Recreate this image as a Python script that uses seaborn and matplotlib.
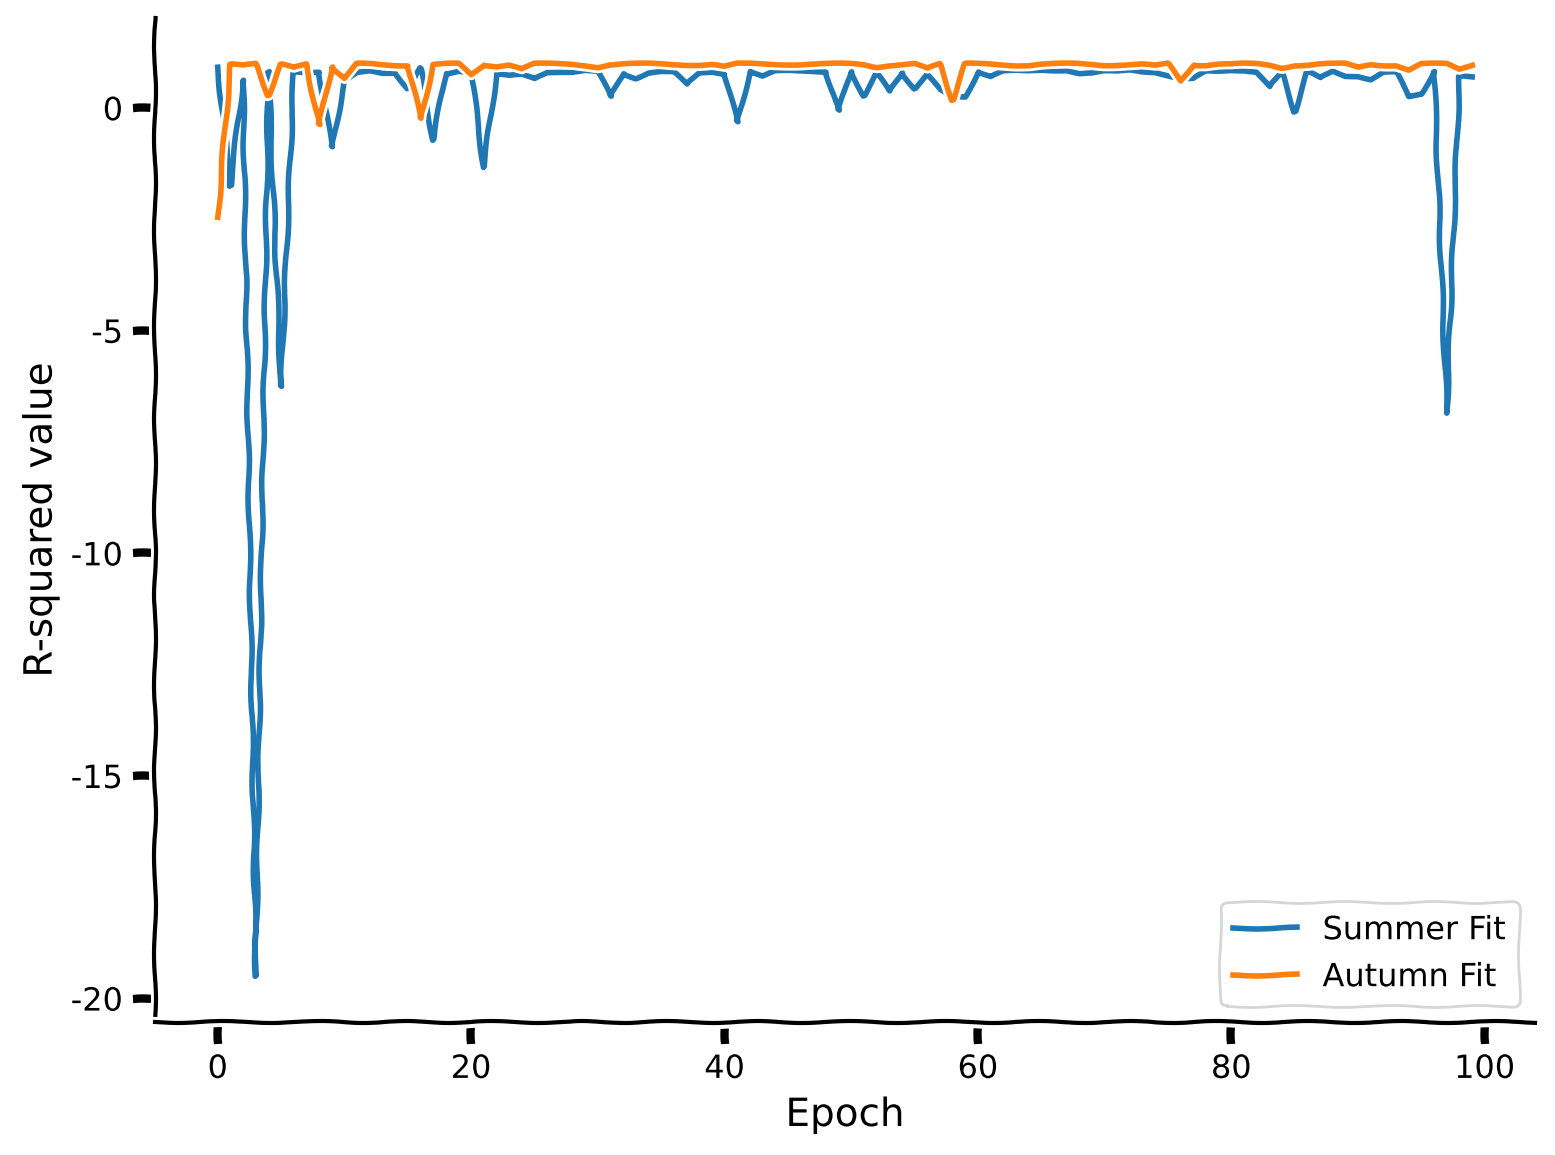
import matplotlib
matplotlib.use("Agg")
import matplotlib.pyplot as plt
import seaborn as sns
import pandas as pd

epochs = list(range(100))

summer_fit = [
    0.92, -1.75, 0.63, -19.5, 0.82, -6.25, 0.80, 0.80, 0.82, -0.87,
    0.60, 0.78, 0.82, 0.78, 0.80, 0.45, 0.90, -0.72, 0.78, 0.85,
    0.80, -1.33, 0.78, 0.73, 0.74, 0.65, 0.80, 0.82, 0.83, 0.86,
    0.82, 0.26, 0.78, 0.68, 0.80, 0.82, 0.80, 0.53, 0.80, 0.83,
    0.78, -0.31, 0.83, 0.71, 0.82, 0.83, 0.83, 0.83, 0.83, -0.05,
    0.82, 0.28, 0.78, 0.38, 0.80, 0.44, 0.74, 0.40, 0.25, 0.26,
    0.82, 0.71, 0.82, 0.83, 0.83, 0.86, 0.86, 0.86, 0.78, 0.78,
    0.82, 0.82, 0.86, 0.83, 0.82, 0.74, 0.65, 0.65, 0.82, 0.83,
    0.86, 0.86, 0.82, 0.48, 0.78, -0.08, 0.82, 0.67, 0.83, 0.73,
    0.73, 0.65, 0.80, 0.80, 0.26, 0.33, 0.83, -6.85, 0.71, 0.68,
]

autumn_fit = [
    -2.45, 0.98, 0.95, 0.99, 0.29, 0.98, 0.90, 0.99, -0.37, 0.93,
    0.67, 0.99, 0.99, 0.98, 0.97, 0.97, -0.23, 0.98, 0.99, 0.99,
    0.75, 0.98, 0.95, 0.98, 0.88, 0.99, 0.99, 0.99, 0.99, 0.97,
    0.93, 0.98, 0.99, 0.99, 0.99, 0.99, 0.98, 0.98, 0.98, 0.99,
    0.93, 0.99, 0.99, 0.99, 0.99, 0.99, 0.99, 0.99, 0.99, 0.99,
    0.99, 0.98, 0.93, 0.97, 0.98, 0.99, 0.88, 0.99, 0.18, 0.99,
    0.99, 0.99, 0.98, 0.97, 0.97, 0.99, 0.99, 0.99, 0.99, 0.98,
    0.97, 0.98, 0.99, 0.99, 0.95, 0.99, 0.61, 0.98, 0.97, 0.99,
    0.98, 0.99, 0.99, 0.97, 0.91, 0.97, 0.97, 0.99, 0.99, 0.99,
    0.91, 0.98, 0.97, 0.97, 0.86, 0.99, 0.99, 0.99, 0.88, 0.98,
]

series_names = ["Summer Fit", "Autumn Fit"]

df = pd.DataFrame({
    "Epoch": epochs + epochs,
    "R2": summer_fit + autumn_fit,
    "Series": [series_names[0]] * len(epochs) + [series_names[1]] * len(epochs),
})

with plt.xkcd():
    plt.rcParams["font.family"] = ["DejaVu Sans"]
    fig, ax = plt.subplots(figsize=(7.775, 5.775), dpi=200)
    fig.subplots_adjust(left=0.0997, right=0.987, bottom=0.1152, top=0.984)
    sns.lineplot(data=df, x="Epoch", y="R2", hue="Series",
                 palette=["#1f77b4", "#ff7f0e"], linewidth=2, ax=ax)
    handles, labels = ax.get_legend_handles_labels()
    ax.legend(handles, labels, loc="lower right", fontsize=11.5)
    ax.set_xlabel("Epoch", fontsize=14)
    ax.set_ylabel("R-squared value", fontsize=14)
    ax.tick_params(axis="both", labelsize=11.5)
    sns.despine(ax=ax)
    fig.savefig("out.png", dpi=200)
